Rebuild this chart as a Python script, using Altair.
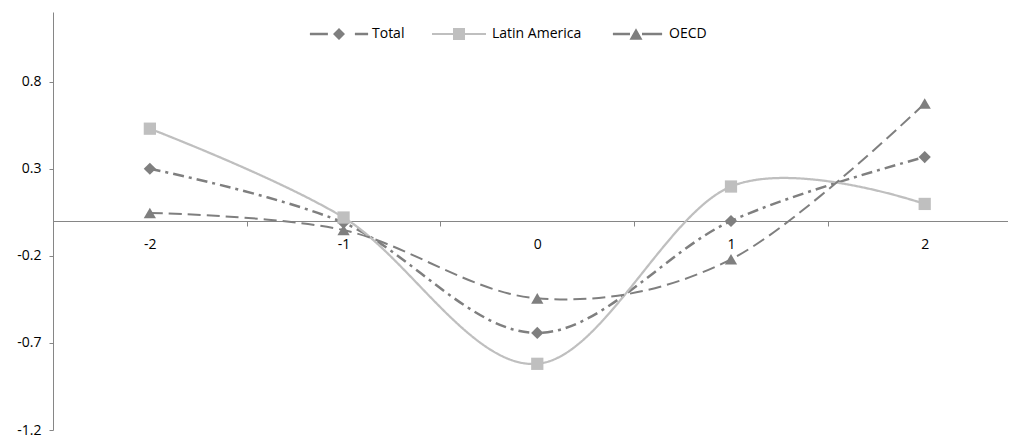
import altair as alt
import pandas as pd

categories = [-2, -1, 0, 1, 2]
series_names = ["Total", "Latin America", "OECD"]
total = [0.30, -0.01, -0.643, 0.0, 0.367]
latin_america = [0.53, 0.02, -0.82, 0.198, 0.098]
oecd = [0.046, -0.052, -0.444, -0.22, 0.675]
y_ticks = [-1.2, -0.7, -0.2, 0.3, 0.8]
x_tick_values = [-2, -1.5, -1, -0.5, 0, 0.5, 1, 1.5, 2]

rows = []
for name, vals in zip(series_names, [total, latin_america, oecd]):
    for c, v in zip(categories, vals):
        rows.append({"x": c, "value": v, "series": name})
df = pd.DataFrame(rows)

colors = ["#7f7f7f", "#bfbfbf", "#7f7f7f"]
dashes = [[11, 5, 3, 5], [1, 0], [13, 6]]
widths = [2.5, 2, 2.5]
shapes = ["diamond", "square", "triangle-up"]
legend_shapes = [
    "M-0.97,-0.042H-0.37V0.042H-0.97Z M0,-0.2L0.2,0L0,0.2L-0.2,0Z M0.53,-0.042H0.97V0.042H0.53Z",
    "M-0.9,-0.035H-0.2V0.035H-0.9Z M-0.2,-0.2H0.2V0.2H-0.2Z M0.2,-0.035H0.9V0.035H0.2Z",
    "M-0.77,-0.042H-0.2V0.042H-0.77Z M0,-0.19L0.217,0.19L-0.217,0.19Z M0.2,-0.042H0.87V0.042H0.2Z",
]

FONT = "Open Sans, sans-serif"
FS = 14
W, H = 955, 418
AXIS_COLOR = "#868686"

x_scale = alt.Scale(domain=[-2.5, 2.43], nice=False, zero=False)
y_scale = alt.Scale(domain=[-1.2, 1.2], nice=False, zero=False)

x_axis = alt.Axis(
    values=x_tick_values,
    labelExpr="datum.value % 1 == 0 ? (datum.value < 0 ? '-' : '') + abs(datum.value) : ''",
    tickOpacity={"condition": {"test": "datum.value % 1 != 0", "value": 1}, "value": 0},
    tickSize=5,
    tickColor=AXIS_COLOR,
    domainColor=AXIS_COLOR,
    labelPadding=11,
    labelFont=FONT,
    labelFontSize=FS,
    labelColor="#000000",
    offset=-H / 2,
    grid=False,
    title=None,
    labelOverlap=False,
)
y_axis = alt.Axis(
    values=y_ticks,
    labelExpr="(datum.value < 0 ? '-' : '') + format(abs(datum.value), '.1f')",
    tickSize=4,
    tickColor=AXIS_COLOR,
    domainColor=AXIS_COLOR,
    labelPadding=8,
    labelFont=FONT,
    labelFontSize=FS,
    labelColor="#000000",
    grid=False,
    title=None,
)

color_scale = alt.Scale(domain=series_names, range=colors)

base = alt.Chart(df)

lines = base.mark_line(interpolate="cardinal").encode(
    x=alt.X("x:Q", scale=x_scale, axis=x_axis),
    y=alt.Y("value:Q", scale=y_scale, axis=y_axis),
    color=alt.Color("series:N", scale=color_scale, legend=None),
    strokeDash=alt.StrokeDash("series:N", scale=alt.Scale(domain=series_names, range=dashes), legend=None),
    strokeWidth=alt.StrokeWidth("series:N", scale=alt.Scale(domain=series_names, range=widths), legend=None),
    detail="series:N",
)

points = base.mark_point(filled=True, opacity=1, size=150).encode(
    x=alt.X("x:Q", scale=x_scale),
    y=alt.Y("value:Q", scale=y_scale),
    color=alt.Color("series:N", scale=color_scale, legend=None),
    shape=alt.Shape("series:N", scale=alt.Scale(domain=series_names, range=shapes), legend=None),
)

legend_cfg = alt.Legend(
    orient="none",
    legendX=256,
    legendY=-8,
    direction="horizontal",
    title=None,
    symbolSize=3600,
    symbolStrokeWidth=0,
    labelOffset=3,
    columnPadding=24,
    labelFont=FONT,
    labelFontSize=FS,
    labelColor="#000000",
    padding=0,
)

legend_layer = base.transform_filter("false").mark_point(filled=True, opacity=1, size=3600).encode(
    color=alt.Color("series:N", scale=alt.Scale(domain=series_names, range=colors), legend=legend_cfg),
    shape=alt.Shape("series:N", scale=alt.Scale(domain=series_names, range=legend_shapes), legend=legend_cfg),
)

chart = (
    alt.layer(lines, points, legend_layer)
    .resolve_scale(shape="independent", color="independent")
    .properties(
        width=W,
        height=H,
        autosize="none",
        padding={"left": 45, "top": 4, "right": 0, "bottom": 12},
    )
    .configure_view(stroke=None)
)

chart.save("out.html", embed_options={"renderer": "svg", "actions": False})
